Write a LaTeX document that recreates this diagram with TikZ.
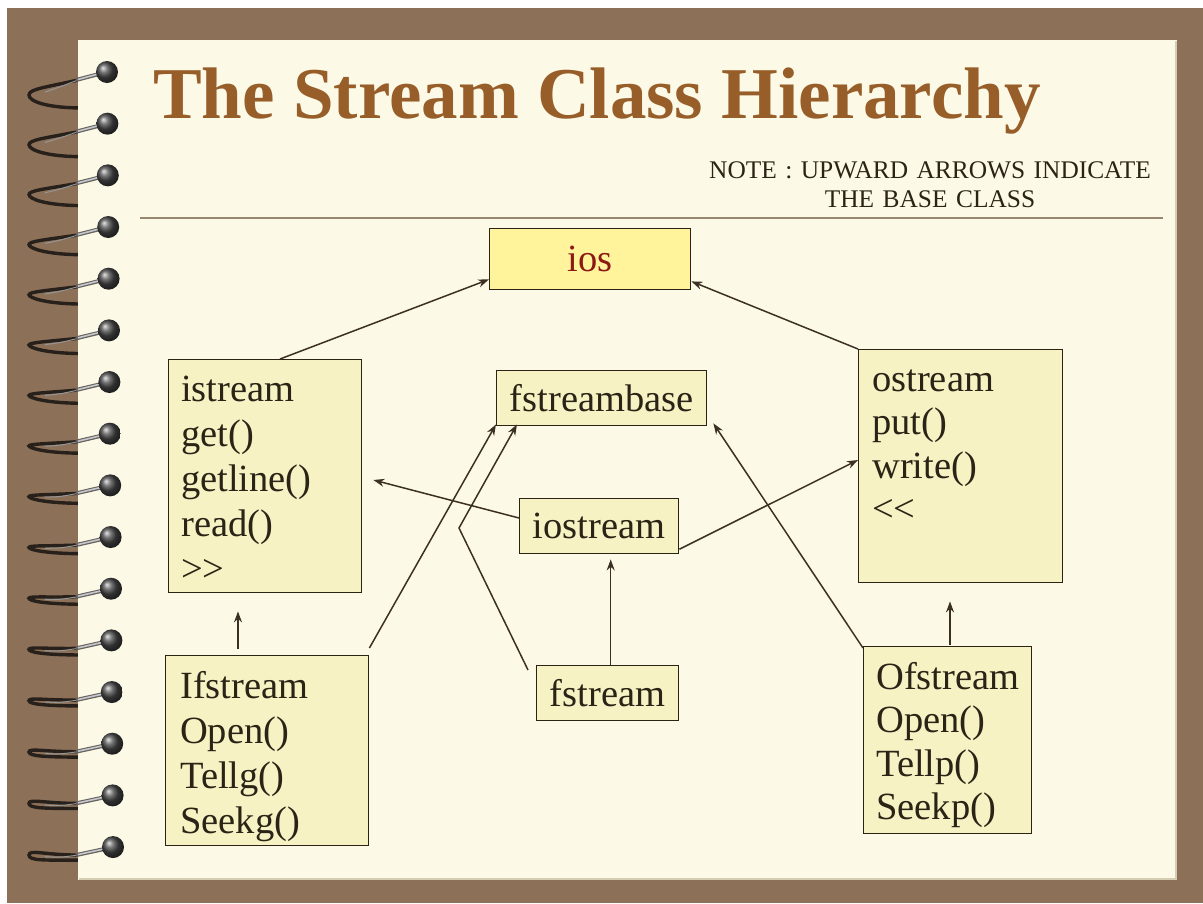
\documentclass[tikz,border=0pt]{standalone}
\usepackage{fontspec}
\setmainfont{Liberation Serif}
\usetikzlibrary{arrows.meta}

\definecolor{frame}{RGB}{140,113,88}
\definecolor{paper}{RGB}{252,250,230}
\definecolor{paperedge}{RGB}{214,206,180}
\definecolor{boxfill}{RGB}{246,242,196}
\definecolor{iosfill}{RGB}{255,244,156}
\definecolor{ink}{RGB}{43,36,22}
\definecolor{titlebrown}{RGB}{152,94,42}
\definecolor{iosred}{RGB}{140,26,20}
\definecolor{linebrown}{RGB}{60,48,36}
\definecolor{rulecol}{RGB}{150,135,110}
\definecolor{wire}{RGB}{40,32,26}
\definecolor{silver}{RGB}{196,200,204}

\begin{document}
\begin{tikzpicture}[x=1pt,y=-1pt,
  box/.style={draw=ink, line width=1.4pt, fill=boxfill, rectangle, inner sep=0pt, anchor=north west},
  onebox/.style={box, font=\fontsize{38.5}{45}\selectfont, text=ink},
  boxlabel/.style={font=\fontsize{38.5}{#1}\selectfont, text=ink, inner sep=0pt,
    text width=180pt, align=left, anchor=base west},
  boxlabel/.default=45,
  arr/.style={draw=linebrown, line width=1.5pt, -{Stealth[length=11pt,width=8pt]}},
]
\useasboundingbox (0,0) rectangle (1203,903);

% frame and page
\fill[white] (0,0) rectangle (1203,903);
\fill[frame] (7,8) rectangle (1203,903);

% spiral loops behind the page edge
\foreach \i in {0,...,15}{
  \pgfmathsetmacro{\ry}{72+51.67*\i}
  \pgfmathsetmacro{\rt}{\i/15}
  \pgfmathsetmacro{\rl}{8+15*(1-\rt)^2}
  \pgfmathsetmacro{\rb}{13+23*(1-\rt)^2}
  \pgfmathsetmacro{\rh}{2+4*(2*\rt-1)^2}
  \draw[wire, line width=3.4pt, line cap=round]
    (84,\ry+8) -- (78,\ry+8)
    .. controls (45,\ry+4+0.5*\rl) and (29,\ry+\rl-\rh) .. (29,\ry+\rl)
    .. controls (29,\ry+\rl+\rh) and (45,\ry+\rb) .. (84,\ry+\rb);
  \draw[silver!70!wire, line width=1pt]
    (78,\ry+8) .. controls (60,\ry+8+0.3*\rl) .. (45,\ry+4+0.7*\rl);
}

\fill[paper] (78,40) rectangle (1177,880);
\draw[paperedge, line width=2pt] (1176,41) -- (1176,879) -- (79,879);

% wires and rings on the page
\foreach \i in {0,...,15}{
  \pgfmathsetmacro{\ry}{72+51.67*\i}
  \pgfmathsetmacro{\bx}{107+6*\i/15}
  \draw[wire!70, line width=4pt] (\bx-4,\ry+1) -- (76,\ry+8);
  \draw[silver, line width=1.6pt] (\bx-7,\ry+1.5) -- (78,\ry+7.5);
  \shade[ball color=black!72] (\bx,\ry) circle (11);
}

% heading
\node[anchor=base west, inner sep=0pt, text=titlebrown,
      font=\fontsize{73}{80}\bfseries\selectfont] (title) at (153,118)
  {The Stream Class Hierarchy};
\node[anchor=base, inner sep=0pt, text=ink, text width=480pt, align=center,
      font=\fontsize{25.4}{29}\selectfont] (note) at (930,178)
  {NOTE : UPWARD ARROWS INDICATE\\THE BASE CLASS};
\draw[rulecol, line width=1.4pt] (140,218) -- (1163,218);

% classes
\node[onebox, fill=iosfill, text=iosred, minimum width=201, minimum height=61] (ios) at (489,228) {ios};
\node[box, minimum width=193, minimum height=233] (istream) at (168,359) {};
\node[boxlabel] (istream-t) at (181,401) {istream\\get()\\getline()\\read()\\>{}>};
\node[box, minimum width=204, minimum height=233] (ostream) at (858,349) {};
\node[boxlabel=43.5] (ostream-t) at (872,391) {ostream\\put()\\write()\\<{}<};
\node[onebox, minimum width=210, minimum height=55] (fsb) at (496,370) {fstreambase};
\node[onebox, minimum width=159, minimum height=55] (iostream) at (519,498) {iostream};
\node[onebox, minimum width=142, minimum height=55] (fstream) at (536,665) {fstream};
\node[box, minimum width=203, minimum height=190] (ifs) at (165,655) {};
\node[boxlabel] (ifs-t) at (180,698) {Ifstream\\Open()\\Tellg()\\Seekg()};
\node[box, minimum width=168, minimum height=187] (ofs) at (863,646) {};
\node[boxlabel=43.5] (ofs-t) at (876,689) {Ofstream\\Open()\\Tellp()\\Seekp()};

% inheritance arrows (pointing to the base class)
\draw[arr] ([xshift=112pt]istream.north west) -- ([yshift=11pt]ios.south west);
\draw[arr] (ostream.north west) -- ([yshift=9pt]ios.south east);
\draw[arr] ([yshift=-20pt]iostream.north west) -- ([xshift=11pt,yshift=-121pt]istream.north east);
\draw[arr] ([yshift=-23pt]iostream.east) -- ([yshift=-111pt]ostream.north west);

\coordinate (fs-up) at ([xshift=3pt]fstream.north);
\draw[arr, shorten >=5pt] (fs-up) -- (fs-up |- iostream.south);
\coordinate (ifs-up) at ([xshift=73pt]ifs.north west);
\draw[arr, shorten <=6pt, shorten >=18pt] (ifs-up) -- (ifs-up |- istream.south);
\coordinate (ofs-up) at ([xshift=87pt]ofs.north west);
\draw[arr, shorten <=1pt, shorten >=18pt] (ofs-up) -- (ofs-up |- ostream.south);

\draw[arr] ([yshift=7pt]ifs.north east) -- ([yshift=2pt]fsb.south west);
\coordinate (bend) at (459,528);
\draw[arr] ([xshift=-8pt,yshift=-5pt]fstream.north west) -- (bend) -- ([xshift=21pt,yshift=2pt]fsb.south west);
\draw[arr] ([yshift=-2pt]ofs.north west) -- ([xshift=6pt,yshift=3pt]fsb.south east);
\end{tikzpicture}
\end{document}
